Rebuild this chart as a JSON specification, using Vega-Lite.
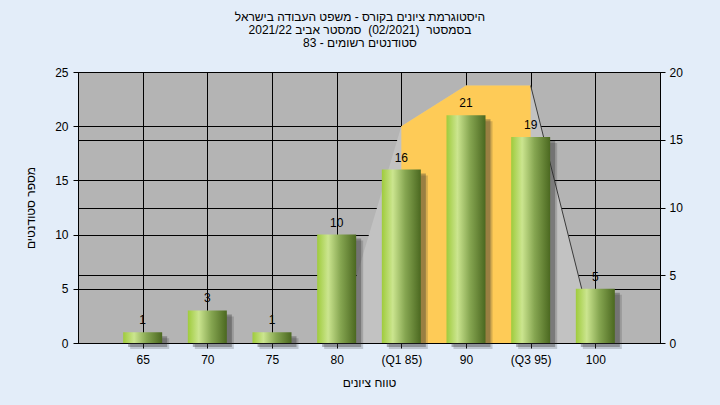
{
  "$schema": "https://vega.github.io/schema/vega-lite/v6.json",
  "width": 582,
  "height": 271,
  "autosize": {"type": "none"},
  "padding": {"left": 78, "top": 72, "right": 60, "bottom": 62},
  "background": "#e3edf9",
  "config": {
    "font": "Liberation Sans",
    "view": {"fill": "#b4b4b4", "stroke": "#000000", "strokeWidth": 1},
    "axis": {
      "domainColor": "#000000",
      "tickColor": "#000000",
      "gridColor": "#000000",
      "gridOpacity": 1,
      "gridWidth": 1,
      "labelColor": "#000000",
      "labelFontSize": 12,
      "labelFont": "Liberation Sans",
      "titleFont": "Liberation Sans",
      "titleFontSize": 12,
      "titleFontWeight": "normal",
      "titleColor": "#000000",
      "tickSize": 5,
      "labelPadding": 4
    }
  },
  "title": {
    "text": [
      "\u202bהיסטוגרמת ציונים בקורס - משפט העבודה בישראל\u202c",
      "\u202bבסמסטר\u00a0 (02/2021)\u00a0 סמסטר אביב 2021/22\u202c",
      "\u202bסטודנטים רשומים - 83\u202c"
    ],
    "font": "Liberation Sans",
    "fontSize": 12,
    "fontWeight": "normal",
    "color": "#000000",
    "lineHeight": 13,
    "anchor": "middle",
    "baseline": "bottom",
    "dx": -9,
    "offset": 4
  },
  "datasets": {
    "bars": [
      {"grade": 65, "count": 1},
      {"grade": 70, "count": 3},
      {"grade": 75, "count": 1},
      {"grade": 80, "count": 10},
      {"grade": 85, "count": 16},
      {"grade": 90, "count": 21},
      {"grade": 95, "count": 19},
      {"grade": 100, "count": 5}
    ],
    "curve": [
      {"grade": 80, "curve": 0},
      {"grade": 85, "curve": 16},
      {"grade": 90, "curve": 19},
      {"grade": 95, "curve": 19},
      {"grade": 100, "curve": 0}
    ],
    "note": [
      {"label": "במשימה : Final_A"}
    ]
  },
  "layer": [
    {
      "data": {"name": "curve"},
      "encoding": {
        "x": {
          "field": "grade",
          "type": "quantitative",
          "scale": {"domain": [60, 105], "nice": false, "zero": false, "padding": 0},
          "axis": {
            "values": [65, 70, 75, 80, 85, 90, 95, 100],
            "grid": true,
            "title": "טווח ציונים",
            "titlePadding": 12,
            "labelPadding": 6,
            "labelExpr": "datum.value == 85 ? '(Q1 85)' : datum.value == 95 ? '(Q3 95)' : datum.label"
          }
        },
        "y": {
          "field": "curve",
          "type": "quantitative",
          "scale": {"domain": [0, 20], "nice": false},
          "axis": {"orient": "right", "values": [0, 5, 10, 15, 20], "grid": true, "title": null, "labelPadding": 4}
        }
      },
      "layer": [
        {"mark": {"type": "area", "color": "#c2c2c2", "opacity": 1}},
        {
          "transform": [{"filter": "datum.grade >= 85 && datum.grade <= 95"}],
          "mark": {"type": "area", "color": "#fecb57", "opacity": 1}
        },
        {
          "transform": [{"filter": "datum.grade >= 95"}],
          "mark": {"type": "line", "color": "#3a3a3a", "strokeWidth": 1}
        }
      ]
    },
    {
      "data": {"name": "bars"},
      "encoding": {
        "x": {
          "field": "grade",
          "type": "quantitative",
          "scale": {"domain": [60, 105], "nice": false, "zero": false, "padding": 0},
          "axis": {
            "values": [65, 70, 75, 80, 85, 90, 95, 100],
            "grid": true,
            "title": "טווח ציונים",
            "titlePadding": 12,
            "labelPadding": 6,
            "labelExpr": "datum.value == 85 ? '(Q1 85)' : datum.value == 95 ? '(Q3 95)' : datum.label"
          }
        },
        "y": {
          "field": "count",
          "type": "quantitative",
          "scale": {"domain": [0, 25], "nice": false},
          "axis": {"orient": "left", "values": [0, 5, 10, 15, 20, 25], "grid": true, "title": "מספר סטודנטים", "titlePadding": 17, "labelPadding": 5}
        }
      },
      "layer": [
        {"mark": {"type": "bar", "width": 39, "color": "#2e2e2e", "opacity": 0.35, "xOffset": 5, "yOffset": 4, "clip": false}},
        {"mark": {"type": "bar", "width": 39, "color": "#2e2e2e", "opacity": 0.2, "xOffset": 7, "yOffset": 6, "clip": false}},
        {
          "mark": {
            "type": "bar",
            "width": 39,
            "color": {
              "gradient": "linear",
              "x1": 0, "x2": 1, "y1": 0, "y2": 0,
              "stops": [
                {"offset": 0, "color": "#9fcb3c"},
                {"offset": 0.28, "color": "#cbe58f"},
                {"offset": 0.6, "color": "#86a651"},
                {"offset": 1, "color": "#4b6820"}
              ]
            }
          }
        },
        {
          "mark": {"type": "text", "baseline": "bottom", "dy": -5, "fontSize": 12, "color": "#000000", "font": "Liberation Sans"},
          "encoding": {"text": {"field": "count", "type": "quantitative"}}
        },
        {
          "data": {"name": "note"},
          "mark": {"type": "text", "align": "center", "baseline": "middle", "fontSize": 12, "color": "#000000", "font": "Liberation Sans"},
          "encoding": {
            "x": {"datum": 82.35, "type": "quantitative"},
            "y": {"datum": 23.7, "type": "quantitative"},
            "text": {"field": "label", "type": "nominal"}
          }
        }
      ]
    }
  ],
  "resolve": {"scale": {"y": "independent"}, "axis": {"y": "independent"}}
}
